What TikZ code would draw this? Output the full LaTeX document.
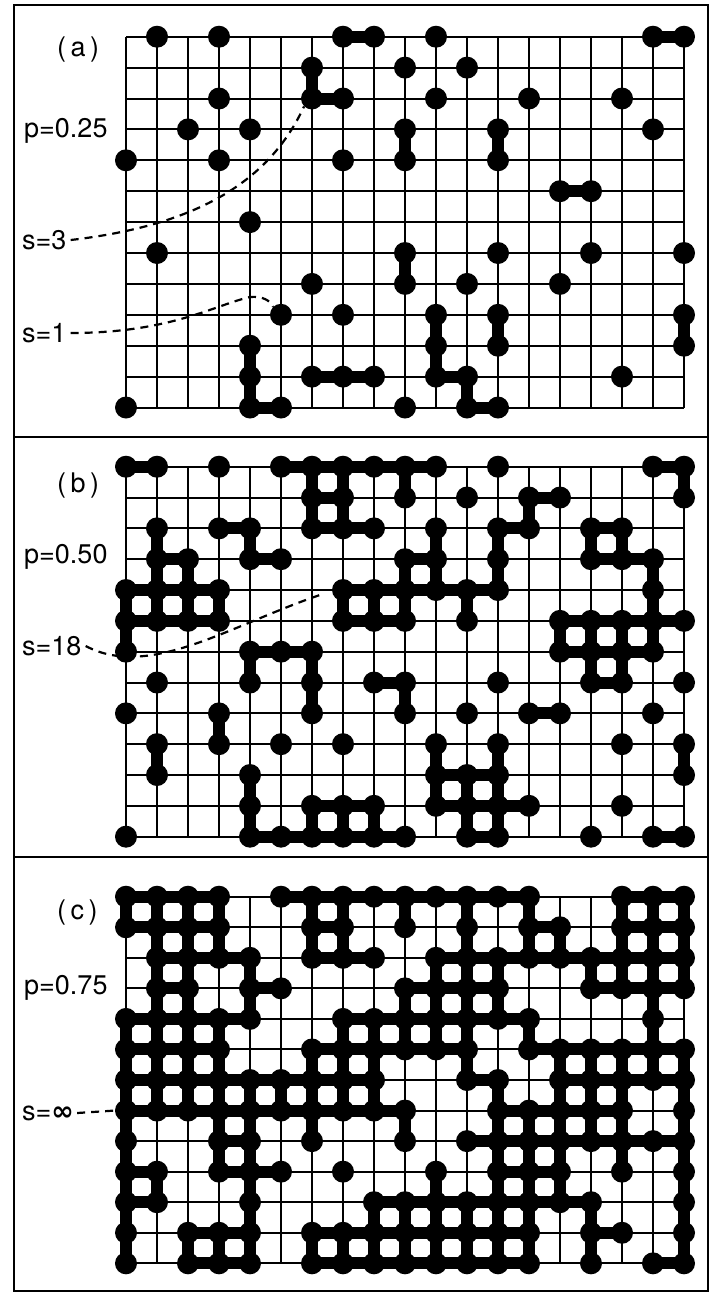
\documentclass[tikz,border=0pt]{standalone}
\usepackage{fontspec}
\setsansfont{TeX Gyre Heros}
\newfontfamily\symbfont{DejaVu Sans}
\usetikzlibrary{calc}

% mark the occupied sites of one row: \occupy{panel}{row}{columns}
\newcommand{\occupy}[3]{%
  \foreach \cc in {#3}{\expandafter\xdef\csname occ#1-\cc-#2\endcsname{1}}}

% grid, bonds between neighbouring sites, then the sites
\newcommand{\lattice}[1]{%
  \foreach \cc in {0,...,18}{\draw[gridline] (\cc,0) -- (\cc,12);}
  \foreach \rr in {0,...,12}{\draw[gridline] (0,\rr) -- (18,\rr);}
  \foreach \rr in {0,...,12}{
    \foreach \cc in {0,...,18}{
      \ifcsname occ#1-\cc-\rr\endcsname
        \pgfmathtruncatemacro\cnext{\cc+1}
        \pgfmathtruncatemacro\rnext{\rr+1}
        \ifcsname occ#1-\cnext-\rr\endcsname
          \draw[bond] (\cc,\rr) -- (\cnext,\rr);
        \fi
        \ifcsname occ#1-\cc-\rnext\endcsname
          \draw[bond] (\cc,\rr) -- (\cc,\rnext);
        \fi
        \node[site] (#1-\cc-\rr) at (\cc,\rr) {};
      \fi
    }
  }%
}

\begin{document}
\begin{tikzpicture}[x=1pt, y=-1pt,
    gridline/.style={line width=2pt},
    bond/.style={line width=12pt},
    site/.style={circle, fill=black, inner sep=0pt, minimum size=22pt},
    tag/.style={font=\sffamily\fontsize{27}{30}\selectfont, inner sep=0pt, anchor=west},
    framing/.style={line width=1.6pt},
    clusterline/.style={line width=2.2pt, dash pattern=on 8pt off 6pt}
  ]
  \useasboundingbox (0,0) rectangle (711,1296);
  \fill[white] (0,0) rectangle (711,1296);

  % frame
  \draw[framing] (14,5) rectangle (708,1291);
  \draw[framing] (14,437) -- (708,437);
  \draw[framing] (14,857) -- (708,857);

  % (a) p=0.25
  \occupy{a}{0}{1,3,7,8,10,17,18}
  \occupy{a}{1}{6,9,11}
  \occupy{a}{2}{3,6,7,10,13,16}
  \occupy{a}{3}{2,4,9,12,17}
  \occupy{a}{4}{0,3,7,9,12}
  \occupy{a}{5}{14,15}
  \occupy{a}{6}{4}
  \occupy{a}{7}{1,9,12,15,18}
  \occupy{a}{8}{6,9,11,14}
  \occupy{a}{9}{5,7,10,12,18}
  \occupy{a}{10}{4,10,12,18}
  \occupy{a}{11}{4,6,7,8,10,11,16}
  \occupy{a}{12}{0,4,5,9,11,12}
  \begin{scope}[shift={(126,36.7)}, x=31pt, y=-30.9pt]
    \lattice{a}
  \end{scope}

  \node[tag] (tagA) at (57,50) {(\,a\,)};
  \node[tag] (probA) at (24,131) {p=0.25};
  \node[tag] (sizeThree) at (22,240) {s=3};
  \node[tag] (sizeOne) at (22,333) {s=1};
  \draw[clusterline] ([xshift=4pt]sizeThree.east) .. controls (200,225) and (270,180) .. (a-6-2.south west);
  \draw[clusterline] ([xshift=4pt]sizeOne.east) .. controls (170,333) and (215,305) .. (250,297)
    .. controls (262,296) and (270,300) .. (a-5-9.north west);

  % (b) p=0.50
  \occupy{b}{0}{0,1,3,5,6,7,8,9,10,12,17,18}
  \occupy{b}{1}{6,7,9,11,13,14,18}
  \occupy{b}{2}{1,3,4,6,7,8,10,12,13,15,16}
  \occupy{b}{3}{1,2,4,5,9,10,12,15,16,17}
  \occupy{b}{4}{0,1,2,3,7,8,9,10,11,12,17}
  \occupy{b}{5}{0,1,2,3,7,8,9,11,14,15,16,17,18}
  \occupy{b}{6}{0,4,5,6,14,15,16,17}
  \occupy{b}{7}{1,4,6,8,9,12,15,16,18}
  \occupy{b}{8}{0,3,6,9,11,13,14,17}
  \occupy{b}{9}{1,3,5,7,10,12,16,18}
  \occupy{b}{10}{1,4,10,11,12,18}
  \occupy{b}{11}{4,6,7,8,10,11,12,13,16}
  \occupy{b}{12}{0,4,5,6,7,8,9,11,12,15,17,18}
  \begin{scope}[shift={(126,466.7)}, x=31pt, y=-30.83pt]
    \lattice{b}
  \end{scope}

  \node[tag] (tagB) at (57,486) {(\,b\,)};
  \node[tag] (probB) at (24,557) {p=0.50};
  \node[tag] (sizeEighteen) at (22,646) {s=18};
  \draw[clusterline] ([xshift=4pt]sizeEighteen.east) .. controls (150,680) and (230,625) .. ([xshift=-9pt,yshift=-4pt]b-7-4.west);

  % (c) p=0.75
  \occupy{c}{0}{0,1,2,3,5,6,7,8,9,10,11,12,13,16,17,18}
  \occupy{c}{1}{0,1,2,3,6,7,9,11,13,14,16,17,18}
  \occupy{c}{2}{1,2,3,4,6,7,8,10,11,12,13,14,15,16,17,18}
  \occupy{c}{3}{1,2,4,5,9,10,11,12,15,16,17,18}
  \occupy{c}{4}{0,1,2,3,4,7,8,9,10,11,12,13,17}
  \occupy{c}{5}{0,1,2,3,6,7,8,9,10,11,13,14,15,16,17,18}
  \occupy{c}{6}{0,1,2,3,4,5,6,7,8,11,12,14,15,16,17,18}
  \occupy{c}{7}{0,1,2,3,4,5,6,7,8,9,12,13,14,15,16,18}
  \occupy{c}{8}{0,3,4,6,9,11,12,13,14,15,16,17,18}
  \occupy{c}{9}{0,1,3,4,5,7,10,12,13,14,16,18}
  \occupy{c}{10}{0,1,4,8,9,10,11,12,13,14,15,18}
  \occupy{c}{11}{0,2,3,4,6,7,8,9,10,11,12,13,15,16,18}
  \occupy{c}{12}{0,2,3,4,6,7,8,9,10,11,12,13,15,17,18}
  \begin{scope}[shift={(126,896.7)}, x=31pt, y=-30.55pt]
    \lattice{c}
  \end{scope}

  \node[tag] (tagC) at (57,913) {(\,c\,)};
  \node[tag] (probC) at (24,988) {p=0.75};
  \node[tag] (sizeInf) at (22,1113) {s={\symbfont\bfseries ∞}};
  \draw[clusterline] ([xshift=3pt]sizeInf.east) -- (c-0-7.west);
\end{tikzpicture}
\end{document}
